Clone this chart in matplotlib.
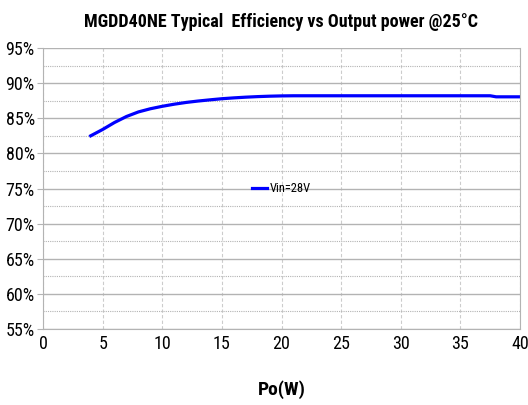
import matplotlib
matplotlib.use("Agg")
import matplotlib.pyplot as plt
from matplotlib.ticker import MultipleLocator, FuncFormatter

plt.rcParams['font.family'] = ['Roboto Condensed', 'DejaVu Sans']

po = [4, 5, 6, 7, 8, 9, 10, 11, 12, 13, 14, 15, 16, 17, 18, 19, 20, 21, 25, 30, 35, 37.5, 38, 40]
eff = [82.5, 83.4, 84.4, 85.25, 85.9, 86.35, 86.7, 87.0, 87.25, 87.45, 87.62, 87.78, 87.9, 88.0, 88.08, 88.14,
       88.18, 88.2, 88.2, 88.2, 88.2, 88.2, 88.05, 88.05]

fig = plt.figure(figsize=(5.28, 4.05), dpi=100)
ax = fig.add_axes([43/528, 1-329/405, (520-43)/528, (329-48)/405])

ax.plot(po, eff, color='#0000ff', linewidth=2.3, label='Vin=28V')

ax.set_xlim(0, 40)
ax.set_ylim(55, 95)
ax.xaxis.set_major_locator(MultipleLocator(5))
ax.yaxis.set_major_locator(MultipleLocator(5))
ax.yaxis.set_minor_locator(MultipleLocator(2.5))
ax.yaxis.set_major_formatter(FuncFormatter(lambda v, p: '%d%%' % v))

ax.grid(which='major', axis='y', color='#b3b3b3', linewidth=1.0, linestyle='-')
ax.grid(which='minor', axis='y', color='#b3b3b3', linewidth=0.8, linestyle=(0, (1, 1)))
ax.grid(which='major', axis='x', color='#cccccc', linewidth=0.8, linestyle=(0, (3, 2)))
ax.set_axisbelow(True)

ax.spines['top'].set_visible(False)
for s in ['left', 'bottom', 'right']:
    ax.spines[s].set_color('#b3b3b3')
ax.tick_params(which='both', length=0, labelsize=13, pad=4)
ax.tick_params(axis='y', which='major', length=4, color='#b3b3b3', direction='out', pad=2)

ax.set_title('MGDD40NE Typical  Efficiency vs Output power @25°C', fontsize=13, fontweight='bold', pad=15)
ax.set_xlabel('Po(W)', fontsize=14, fontweight='bold', labelpad=20)

ax.legend(loc='center', bbox_to_anchor=(0.5, 0.5), frameon=False, fontsize=9,
          handlelength=1.2, handletextpad=0.2)

plt.savefig('out.png', dpi=100)
plt.close()
